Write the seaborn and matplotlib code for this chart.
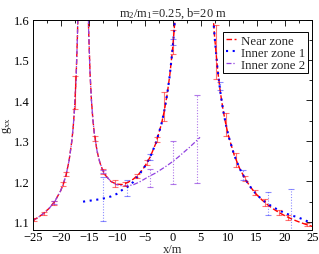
import matplotlib
matplotlib.use("Agg")
import matplotlib.pyplot as plt
import seaborn as sns
from matplotlib.lines import Line2D
from matplotlib.ticker import MultipleLocator

# ---------------- data ----------------
# Near zone: three branches separated by the two mass poles
near_left_x = [-25, -24, -23, -22, -21, -20, -19.5, -19, -18.5, -18, -17.75, -17.5, -17.25, -17, -16.8]
near_left_y = [1.1033, 1.1114, 1.1215, 1.1344, 1.1518, 1.1771, 1.1948, 1.2183, 1.2511, 1.3006,
               1.3364, 1.3847, 1.4539, 1.5612, 1.7017]
near_mid_x = [-15.2, -15, -14.75, -14.5, -14.25, -14, -13.5, -13, -12.5, -12, -11, -10, -9, -8, -7,
              -6, -5, -4, -3, -2, -1.5, -1, -0.5, 0, 0.25, 0.5, 0.75]
near_mid_y = [1.7109, 1.5721, 1.4669, 1.3999, 1.3537, 1.3202, 1.2751, 1.2469, 1.228, 1.215, 1.1997,
              1.1932, 1.1924, 1.1975, 1.2059, 1.2186, 1.2363, 1.2606, 1.294, 1.3415, 1.3732, 1.4125,
              1.4624, 1.5277, 1.5683, 1.6161, 1.6731]
near_right_x = [7, 7.25, 7.5, 8, 8.5, 9, 9.5, 10, 11, 12, 13, 14, 15, 16, 17, 18, 19, 20, 21, 22, 23, 24, 25]
near_right_y = [1.6645, 1.6069, 1.5585, 1.4818, 1.4237, 1.3783, 1.3418, 1.3119, 1.2656, 1.2315, 1.2053,
                1.1846, 1.1678, 1.1538, 1.1421, 1.132, 1.1233, 1.1157, 1.1091, 1.1031, 1.0978, 1.093, 1.0887]

# Inner zone 1
inner1_mid_x = [-16, -15, -14, -13, -12, -11, -10, -9, -8, -7, -6, -5, -4, -3, -2, -1.5, -1, -0.5,
                0, 0.25, 0.5, 0.75]
inner1_mid_y = [1.150, 1.152, 1.154, 1.156, 1.159, 1.163, 1.169, 1.179, 1.187, 1.199, 1.216, 1.2363,
                1.2606, 1.294, 1.3415, 1.3732, 1.4125, 1.4624, 1.5277, 1.5683, 1.6161, 1.6731]
inner1_right_x = [7, 7.25, 7.5, 8, 8.5, 9, 9.5, 10, 11, 12, 13, 14, 15, 16, 17, 18, 19, 20, 21, 22, 23, 24, 25]
inner1_right_y = [1.6645, 1.6069, 1.5585, 1.4818, 1.4237, 1.3783, 1.3418, 1.3119, 1.2656, 1.2315, 1.2053,
                  1.1846, 1.1678, 1.155, 1.145, 1.136, 1.129, 1.122, 1.117, 1.113, 1.108, 1.102, 1.097]

# Inner zone 2
inner2_left_x = near_left_x
inner2_left_y = near_left_y
inner2_mid_x = [-15.2, -15, -14.75, -14.5, -14.25, -14, -13.5, -13, -12.5, -12, -11, -10, -9, -8, -7,
                -6, -5, -4, -3, -2, -1, 0, 1, 2, 3, 4, 4.9]
inner2_mid_y = [1.7109, 1.5721, 1.4669, 1.3999, 1.3537, 1.3202, 1.2751, 1.2469, 1.228, 1.215, 1.1997,
                1.192, 1.189, 1.189, 1.192, 1.198, 1.206, 1.214, 1.221, 1.230, 1.239, 1.249, 1.260,
                1.272, 1.284, 1.297, 1.309]

# Error bars
near_err_x = [-24.7, -23.0, -21.2, -19.5, -19.0, -17.4, -13.8, -12.4, -10.3, -8.5, -6.4, -4.6, -2.8,
              -1.45, 0.1, 7.7, 9.5, 11.3, 12.9, 14.7, 16.5, 19.1, 20.7, 24.0]
near_err_y = [1.1056, 1.1215, 1.1478, 1.1948, 1.2183, 1.42, 1.305, 1.225, 1.1945, 1.1937, 1.2135, 1.246,
              1.3035, 1.385, 1.544, 1.52, 1.34, 1.253, 1.2077, 1.1725, 1.1477, 1.1225, 1.111, 1.093]
near_err_e = [0.004, 0.004, 0.005, 0.005, 0.005, 0.04, 0.006, 0.006, 0.008, 0.006, 0.006, 0.006, 0.006,
              0.035, 0.03, 0.067, 0.028, 0.018, 0.006, 0.006, 0.008, 0.006, 0.006, 0.004]

inner1_err_x = [-12.5, -8.2, -4.0, 0.1, 8.4, 12.6, 17.1, 21.2]
inner1_err_y = [1.157, 1.184, 1.2606, 1.544, 1.436, 1.216, 1.145, 1.116]
inner1_err_e = [0.055, 0.02, 0.008, 0.008, 0.01, 0.012, 0.028, 0.066]

inner2_err_x = [-21.2, -12.4, -4.0, 0.1, 4.4]
inner2_err_y = [1.1478, 1.225, 1.2085, 1.2475, 1.3045]
inner2_err_e = [0.004, 0.004, 0.0225, 0.0535, 0.1085]

labels = ["Near zone", "Inner zone 1", "Inner zone 2"]
title = "m$_2$/m$_1$=0.25, b=20 m"

# ---------------- style ----------------
sns.set_theme(style="white")
plt.rcParams['font.family'] = ['Liberation Serif', 'DejaVu Serif']
plt.rcParams['mathtext.fontset'] = 'custom'
plt.rcParams['mathtext.rm'] = 'Liberation Serif'
plt.rcParams['mathtext.it'] = 'Liberation Serif:italic'

RED = '#ff0000'
BLUE = '#0000ff'
PURPLE = '#9040e0'
ls_near = (0, (4, 1.8))
ls_in1 = (0, (1, 2.2))
ls_in2 = (0, (4, 1.5, 1, 1.5))

fig = plt.figure(figsize=(3.19, 2.55), dpi=100)
ax = fig.add_axes([0.1025, 0.0941, 0.8771, 0.8255])

def seg(x, y, color, ls, lw):
    sns.lineplot(x=x, y=y, ax=ax, color=color, linestyle=ls, linewidth=lw,
                 estimator=None, sort=False, errorbar=None)

for xs, ys in [(near_left_x, near_left_y), (near_mid_x, near_mid_y), (near_right_x, near_right_y)]:
    seg(xs, ys, RED, ls_near, 1.0)
for xs, ys in [(inner2_left_x, inner2_left_y), (inner2_mid_x, inner2_mid_y)]:
    seg(xs, ys, PURPLE, ls_in2, 0.9)
for xs, ys in [(inner1_mid_x, inner1_mid_y), (inner1_right_x, inner1_right_y)]:
    seg(xs, ys, BLUE, ls_in1, 1.5)

def errbars(x, y, e, color, alpha, dotted):
    eb = ax.errorbar(x, y, yerr=e, fmt='none', ecolor=color, elinewidth=0.8,
                     capsize=2.3, capthick=0.8, alpha=alpha)
    if dotted:
        eb.lines[2][0].set_linestyle((0, (1, 1.5)))

errbars(near_err_x, near_err_y, near_err_e, RED, 0.55, False)
errbars(inner1_err_x, inner1_err_y, inner1_err_e, BLUE, 0.45, True)
errbars(inner2_err_x, inner2_err_y, inner2_err_e, PURPLE, 0.7, True)

ax.set_xlim(-25, 25)
ax.set_ylim(1.08, 1.6)
ax.xaxis.set_major_locator(MultipleLocator(5))
ax.xaxis.set_minor_locator(MultipleLocator(2.5))
ax.yaxis.set_major_locator(MultipleLocator(0.1))
ax.yaxis.set_minor_locator(MultipleLocator(0.05))
ax.tick_params(which='both', direction='in', top=True, right=True, width=0.6, colors='black',
               labelsize=9)
ax.tick_params(axis='x', which='major', pad=0.5)
ax.tick_params(axis='y', which='major', pad=2.5)
ax.tick_params(which='major', length=4)
ax.tick_params(which='minor', length=2)
for s in ax.spines.values():
    s.set_color('black')
    s.set_linewidth(0.7)

ax.set_title(title, fontsize=9, pad=3)
ax.set_xlabel("x/m", fontsize=9, labelpad=0)
ax.set_ylabel(r"g$_\mathrm{xx}$", fontsize=9)
ax.yaxis.set_label_coords(-0.068, 0.5)

handles = [Line2D([], [], color=RED, linestyle=ls_near, linewidth=1.0),
           Line2D([], [], color=BLUE, linestyle=ls_in1, linewidth=1.5),
           Line2D([], [], color=PURPLE, linestyle=ls_in2, linewidth=0.9)]
leg = ax.legend(handles, labels, loc='upper right', bbox_to_anchor=(0.985, 0.94),
                borderaxespad=0, handlelength=0.8, handletextpad=0.4, borderpad=0.2,
                labelspacing=0.0, fontsize=9.3, fancybox=False, framealpha=1)
leg.get_frame().set_edgecolor('black')
leg.get_frame().set_linewidth(0.7)

fig.savefig("out.png", dpi=100)
